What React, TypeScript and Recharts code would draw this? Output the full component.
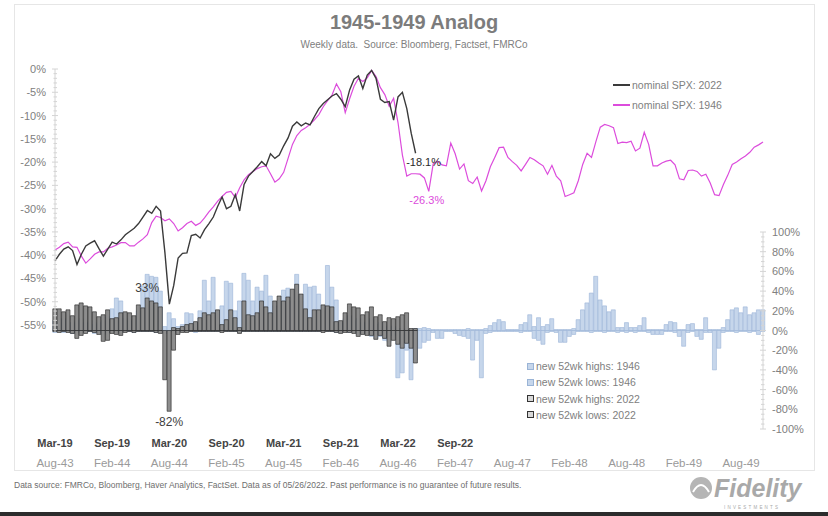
import { Bar, ComposedChart, LabelList, Line, XAxis, YAxis } from 'recharts'

// one reading every two weeks; week 0 = Mar-19 for the 2022 cycle, Aug-43 for the 1946 cycle
const STEP_WEEKS = 2
const LAST_WEEK = 322
const WEEKS_PER_LABEL = 26

// nominal SPX, % below the cycle peak
const spx2022 = [
  -41.2, -39.8, -38.7, -38.2, -39.0, -42.0, -39.8, -38.0, -37.4, -36.9,
  -38.6, -40.2, -38.7, -37.2, -37.6, -36.7, -35.6, -34.9, -34.2, -33.2,
  -31.8, -30.4, -31.0, -29.5, -30.5, -39.5, -50.5, -46.5, -40.6, -39.6,
  -39.5, -35.8, -35.5, -36.3, -34.5, -33.2, -31.8, -29.5, -27.5, -30.0,
  -29.5, -27.0, -30.5, -24.8, -23.0, -22.0, -21.0, -19.9, -20.8, -18.2,
  -19.2, -18.5, -16.5, -14.8, -12.3, -11.4, -12.2, -11.6, -12.0, -10.2,
  -8.5, -7.4, -6.6, -5.8, -5.3, -6.5, -8.1, -4.5, -2.2, -1.5,
  -4.2, -1.3, -0.3, -2.0, -6.5, -7.2, -7.0, -11.0, -6.0, -5.0,
  -8.5, -13.8, -18.1,
]

const spx1946 = [
  -38.9, -38.3, -37.5, -37.2, -38.2, -38.3, -40.2, -41.7, -40.8, -39.8,
  -39.3, -39.3, -38.5, -38.2, -37.8, -37.3, -37.3, -38.0, -38.0, -37.2,
  -36.5, -35.6, -33.0, -31.6, -31.9, -32.6, -32.2, -33.2, -34.8, -34.1,
  -33.2, -32.7, -33.6, -33.1, -32.0, -30.7, -29.6, -28.4, -27.4, -26.5,
  -26.3, -27.6, -25.5, -23.8, -22.7, -22.0, -21.4, -21.0, -20.8, -22.5,
  -24.3, -23.6, -22.2, -19.2, -16.2, -14.3, -13.2, -12.6, -11.9, -10.9,
  -9.8, -8.1, -6.8, -5.6, -3.2, -4.9, -9.4, -6.4, -3.7, -2.0,
  -2.7, -1.9, -0.3, -1.6, -4.0, -5.5, -8.0, -6.3, -11.5, -18.5,
  -23.0, -22.5, -22.5, -22.6, -23.4, -26.3, -20.4, -19.8, -20.6, -20.8,
  -15.9, -18.2, -21.5, -20.4, -24.0, -24.6, -23.2, -26.2, -24.0, -21.0,
  -19.0, -16.9, -16.8, -19.0, -19.9, -20.7, -21.9, -20.5, -19.0, -19.5,
  -20.2, -20.8, -22.6, -20.7, -23.0, -24.0, -27.4, -27.0, -26.6, -24.0,
  -20.5, -18.1, -19.0, -15.6, -12.5, -11.9, -12.2, -12.6, -16.0, -15.7,
  -15.8, -15.5, -17.6, -17.0, -13.6, -16.2, -20.8, -20.8, -20.2, -19.8,
  -19.6, -20.6, -23.6, -23.8, -21.8, -21.7, -22.0, -23.0, -22.6, -24.5,
  -27.0, -27.2, -24.8, -22.8, -20.5, -20.0, -19.3, -18.7, -17.9, -16.8,
  -16.3, -15.7,
]

// share of stocks at new 52-week highs / lows, %
const highs1946 = [
  10, 8, 12, 6, 8, 10, 12, 8, 10, 6,
  8, 10, 14, 22, 33, 30, 12, 10, 12, 20,
  45, 57, 55, 54, 40, 4, 18, 12, 4, 6,
  18, 17, 8, 20, 51, 30, 54, 20, 25, 50,
  48, 20, 30, 58, 51, 30, 44, 40, 56, 35,
  25, 20, 41, 43, 30, 57, 30, 47, 44, 45,
  37, 20, 66, 44, 31, 8, 12, 15, 10, 12,
  8, 10, 12, 6, 8, 4, 6, 4, 2, 2,
  1, 1, 2, 2, 3, 2, 1, 1, 1, 1,
  1, 1, 1, 1, 2, 1, 1, 1, 2, 5,
  8, 11, 9, 1, 1, 1, 6, 8, 16, 4,
  13, 4, 6, 12, 1, 1, 1, 1, 2, 11,
  21, 28, 38, 55, 31, 25, 19, 21, 3, 3,
  8, 3, 3, 5, 13, 1, 1, 1, 1, 6,
  9, 8, 1, 1, 6, 7, 1, 1, 13, 1,
  1, 1, 3, 11, 21, 23, 18, 24, 16, 18,
  21, 21,
]

const lows1946 = [
  -2, -1, -2, -1, -3, -2, -1, -2, -1, -3,
  -2, -4, -2, -1, -1, -2, -1, -1, -2, -1,
  -1, -1, -1, -2, -1, -3, -1, -1, -2, -1,
  -1, -1, -2, -1, -1, -1, -1, -1, -1, -1,
  -1, -1, -2, -1, -1, -1, -1, -1, -1, -1,
  -1, -1, -1, -1, -1, -1, -1, -1, -1, -1,
  -1, -1, -1, -1, -2, -2, -1, -2, -2, -4,
  -3, -4, -6, -8, -6, -10, -12, -5, -48, -43,
  -20, -50, -30, -18, -12, -10, -2, -8, -8, -1,
  -1, -3, -5, -6, -8, -30, -10, -48, -3, -2,
  -1, -1, -1, -1, -1, -1, -2, -1, -1, -8,
  -10, -14, -2, -1, -2, -12, -12, -6, -4, -1,
  -1, -1, -2, -1, -1, -2, -1, -1, -2, -1,
  -2, -1, -2, -1, -1, -2, -4, -4, -4, -1,
  -1, -2, -6, -16, -2, -1, -6, -9, -2, -2,
  -40, -18, -2, -1, -1, -2, -1, -1, -2, -1,
  -4, -1,
]

const highs2022 = [
  22, 22, 19, 21, 15, 26, 28, 25, 24, 19,
  14, 16, 21, 12, 13, 18, 19, 18, 15, 26,
  23, 33, 30, 28, 24, 0, 0, 3, 2, 4,
  6, 7, 9, 13, 18, 16, 18, 21, 6, 11,
  21, 13, 3, 30, 16, 15, 18, 30, 24, 18,
  30, 35, 30, 34, 42, 47, 37, 22, 13, 21,
  21, 26, 25, 24, 9, 10, 18, 27, 24, 23,
  16, 19, 24, 14, 16, 9, 13, 12, 14, 16,
  18, 2, 2,
]

const lows2022 = [
  -1, -2, -1, -2, -3, -8, -5, -3, -1, -2,
  -4, -11, -10, -3, -4, -5, -2, -1, -2, -1,
  -1, -1, -1, -2, -3, -50, -82, -20, -4, -2,
  -2, -1, -1, -1, -1, -1, -1, -1, -2, -1,
  -1, -1, -3, -1, -1, -1, -1, -1, -1, -1,
  -1, -1, -1, -1, -1, -1, -1, -1, -1, -1,
  -1, -2, -1, -1, -2, -3, -2, -2, -3, -6,
  -4, -5, -5, -9, -5, -8, -16, -10, -14, -18,
  -13, -18, -33,
]

const labels2022 = ['Mar-19', 'Sep-19', 'Mar-20', 'Sep-20', 'Mar-21', 'Sep-21', 'Mar-22', 'Sep-22']
const labels1946 = [
  'Aug-43', 'Feb-44', 'Aug-44', 'Feb-45', 'Aug-45', 'Feb-46', 'Aug-46',
  'Feb-47', 'Aug-47', 'Feb-48', 'Aug-48', 'Feb-49', 'Aug-49',
]

// weeks that carry a call-out in the original
const callouts = { high2022: 42, low2022: 52, low1946: 170 }

const C = {
  spx2022: '#3a3a3a',
  spx1946: '#dc4cdc',
  bar2022: '#8d8d8d',
  bar2022Edge: '#1e1e1e',
  bar1946: '#c6d6eb',
  bar1946Edge: '#9ab4d6',
  axis: '#d4d4d4',
  text: '#808080',
}

const lineLegend = [
  { label: 'nominal SPX: 2022', color: C.spx2022 },
  { label: 'nominal SPX: 1946', color: C.spx1946 },
]

const barLegend = [
  { label: 'new 52wk highs: 1946', fill: C.bar1946, edge: C.bar1946Edge },
  { label: 'new 52wk lows: 1946', fill: C.bar1946, edge: C.bar1946Edge },
  { label: 'new 52wk highs: 2022', fill: '#d8d8d8', edge: '#333' },
  { label: 'new 52wk lows: 2022', fill: '#d8d8d8', edge: '#333' },
]

const data = spx1946.map((v, i) => ({
  week: i * STEP_WEEKS,
  spx1946: v,
  spx2022: i < spx2022.length ? spx2022[i] : null,
  hi1946: highs1946[i],
  lo1946: lows1946[i],
  hi2022: i < highs2022.length ? highs2022[i] : null,
  lo2022: i < lows2022.length ? lows2022[i] : null,
}))

const leftTicks = Array.from({ length: 57 }, (_, i) => -i)
const rightTicks = Array.from({ length: 41 }, (_, i) => 100 - i * 5)
const dateTicks = labels1946.map((_, i) => i * WEEKS_PER_LABEL)

const FONT = "'Liberation Sans', Arial, sans-serif"

function LeftTick(props: any) {
  const { x, y, payload } = props
  const v = payload.value as number
  const major = v % 5 === 0
  const ax = x + 8
  return (
    <g>
      <line x1={ax - (major ? 3 : 1.5)} x2={ax + (major ? 3 : 2)} y1={y} y2={y} stroke={C.axis} />
      {major && (
        <text x={x - 1} y={y + 4} textAnchor="end" fontSize={11} fill={C.text}>
          {`${v}%`}
        </text>
      )}
    </g>
  )
}

function RightTick(props: any) {
  const { x, y, payload } = props
  const v = payload.value as number
  const major = v % 20 === 0
  const ax = x - 8
  return (
    <g>
      <line x1={ax - (major ? 3 : 2)} x2={ax + (major ? 3 : 1.5)} y1={y} y2={y} stroke={C.axis} />
      {major && (
        <text x={x + 1} y={y + 4} textAnchor="start" fontSize={11} fill={C.text}>
          {`${v}%`}
        </text>
      )}
    </g>
  )
}

// two date rows: 2022 cycle on top, 1946 cycle beneath
function DateTick(props: any) {
  const { x, y, payload } = props
  const i = Math.round(payload.value / WEEKS_PER_LABEL)
  return (
    <g>
      {labels2022[i] && (
        <text x={x} y={y + 10} textAnchor="middle" fontSize={11} fontWeight="bold" fill="#444">
          {labels2022[i]}
        </text>
      )}
      <text x={x} y={y + 30} textAnchor="middle" fontSize={11.5} fill="#9a9a9a">
        {labels1946[i]}
      </text>
    </g>
  )
}

const highCallout = (p: any) => {
  const row = data[p.index]
  if (!row || row.week !== callouts.high2022) return null
  const top = Math.min(p.y, p.y + p.height)
  return (
    <text x={p.x + p.width / 2} y={top - 6} textAnchor="middle" fontSize={12} fill="#404040">
      {`${row.hi2022}%`}
    </text>
  )
}

const lowCallout = (p: any) => {
  const row = data[p.index]
  if (!row || row.week !== callouts.low2022) return null
  const bottom = Math.max(p.y, p.y + p.height)
  return (
    <text x={p.x + p.width / 2} y={bottom + 15} textAnchor="middle" fontSize={12} fill="#404040">
      {`${row.lo2022}%`}
    </text>
  )
}

const endCallout = (p: any) => {
  if (p.index !== spx2022.length - 1) return null
  return (
    <text x={p.x + 8} y={p.y + 13} textAnchor="middle" fontSize={11} fill="#2a2a2a">
      {`${spx2022[p.index]}%`}
    </text>
  )
}

const troughCallout = (p: any) => {
  const row = data[p.index]
  if (!row || row.week !== callouts.low1946) return null
  return (
    <text x={p.x - 2} y={p.y + 13} textAnchor="middle" fontSize={11} fill={C.spx1946}>
      {`${row.spx1946}%`}
    </text>
  )
}

export default function App() {
  return (
    <div
      style={{
        position: 'relative',
        width: 828,
        height: 516,
        background: '#fff',
        overflow: 'hidden',
        fontFamily: FONT,
      }}
    >
      <style>{'body{margin:0}'}</style>
      <div
        style={{
          position: 'absolute',
          left: 14,
          top: 4,
          width: 799,
          height: 465,
          border: '1px solid #e6e6e6',
        }}
      />
      <div
        style={{
          position: 'absolute',
          top: 11,
          width: 828,
          textAlign: 'center',
          fontSize: 20,
          lineHeight: '22px',
          fontWeight: 'bold',
          color: '#7c7c7c',
        }}
      >
        1945-1949 Analog
      </div>
      <div
        style={{
          position: 'absolute',
          top: 39,
          width: 828,
          textAlign: 'center',
          fontSize: 10,
          lineHeight: '12px',
          color: C.text,
          whiteSpace: 'pre',
        }}
      >
        {'Weekly data.  Source: Bloomberg, Factset, FMRCo'}
      </div>

      {/* weekly breadth bars, right axis */}
      <div style={{ position: 'absolute', left: 0, top: 0 }}>
        <ComposedChart
          width={828}
          height={475}
          data={data}
          stackOffset="sign"
          barGap={0}
          margin={{ top: 232, right: 0, bottom: 6, left: 55 }}
        >
          <XAxis
            xAxisId="dates"
            dataKey="week"
            type="number"
            domain={[0, LAST_WEEK]}
            ticks={dateTicks}
            interval={0}
            height={40}
            tickLine={false}
            axisLine={false}
            tick={(p: any) => <DateTick {...p} />}
          />
          <XAxis xAxisId="overlay" dataKey="week" type="number" domain={[0, LAST_WEEK]} hide />
          <YAxis
            yAxisId="breadth"
            orientation="right"
            width={65}
            domain={[-100, 100]}
            ticks={rightTicks}
            interval={0}
            tickLine={false}
            axisLine={{ stroke: C.axis }}
            tick={(p: any) => <RightTick {...p} />}
          />
          <Bar xAxisId="dates" yAxisId="breadth" dataKey="hi1946" stackId="y1946" barSize={4}
            fill={C.bar1946} stroke={C.bar1946Edge} strokeWidth={0.6} isAnimationActive={false} />
          <Bar xAxisId="dates" yAxisId="breadth" dataKey="lo1946" stackId="y1946" barSize={4}
            fill={C.bar1946} stroke={C.bar1946Edge} strokeWidth={0.6} isAnimationActive={false} />
          <Bar xAxisId="overlay" yAxisId="breadth" dataKey="hi2022" stackId="y2022" barSize={4}
            fill={C.bar2022} stroke={C.bar2022Edge} strokeWidth={0.6} isAnimationActive={false}>
            <LabelList content={highCallout} />
          </Bar>
          <Bar xAxisId="overlay" yAxisId="breadth" dataKey="lo2022" stackId="y2022" barSize={4}
            fill={C.bar2022} stroke={C.bar2022Edge} strokeWidth={0.6} isAnimationActive={false}>
            <LabelList content={lowCallout} />
          </Bar>
        </ComposedChart>
      </div>

      {/* SPX paths, left axis */}
      <div style={{ position: 'absolute', left: 0, top: 0, pointerEvents: 'none' }}>
        <ComposedChart
          width={828}
          height={340}
          data={data}
          margin={{ top: 69, right: 65, bottom: 8, left: 0 }}
        >
          <XAxis dataKey="week" type="number" domain={[0, LAST_WEEK]} hide />
          <YAxis
            width={55}
            domain={[-56.5, 0]}
            ticks={leftTicks}
            interval={0}
            tickLine={false}
            axisLine={{ stroke: C.axis }}
            tick={(p: any) => <LeftTick {...p} />}
          />
          <Line dataKey="spx1946" stroke={C.spx1946} strokeWidth={1.2} dot={false}
            type="linear" isAnimationActive={false}>
            <LabelList content={troughCallout} />
          </Line>
          <Line dataKey="spx2022" stroke={C.spx2022} strokeWidth={1.4} dot={false}
            type="linear" isAnimationActive={false}>
            <LabelList content={endCallout} />
          </Line>
        </ComposedChart>
      </div>

      {lineLegend.map((item, i) => (
        <div
          key={item.label}
          style={{
            position: 'absolute',
            left: 613,
            top: 79 + i * 20,
            height: 12,
            display: 'flex',
            alignItems: 'center',
            fontSize: 10.5,
            color: C.text,
          }}
        >
          <span style={{ width: 17, height: 2, background: item.color, marginRight: 2 }} />
          {item.label}
        </div>
      ))}

      {barLegend.map((item, i) => (
        <div
          key={item.label}
          style={{
            position: 'absolute',
            left: 527,
            top: 360 + i * 16.3,
            height: 12,
            display: 'flex',
            alignItems: 'center',
            fontSize: 10.5,
            color: C.text,
          }}
        >
          <span
            style={{
              width: 5,
              height: 5,
              background: item.fill,
              border: `1px solid ${item.edge}`,
              marginRight: 2,
            }}
          />
          {item.label}
        </div>
      ))}

      <div
        style={{
          position: 'absolute',
          left: 14,
          top: 480,
          fontSize: 8.5,
          lineHeight: '10px',
          color: '#6e6e6e',
          whiteSpace: 'nowrap',
        }}
      >
        Data source: FMRCo, Bloomberg, Haver Analytics, FactSet. Data as of 05/26/2022. Past performance is no guarantee of future results.
      </div>

      <svg style={{ position: 'absolute', left: 688, top: 474 }} width={124} height={36}>
        <circle cx={13} cy={14} r={11} fill="#b5b5b5" />
        <path d="M5 18 Q13 4 21 18" stroke="#fff" strokeWidth={2} fill="none" />
        <text x={26} y={23} fontSize={25} fontWeight="bold" fontStyle="italic" fill="#a9a9a9">
          Fidelity
        </text>
        <text x={36} y={35} fontSize={4.5} letterSpacing={2.2} fill="#a9a9a9">
          INVESTMENTS
        </text>
      </svg>

      <div
        style={{ position: 'absolute', left: 0, top: 512, width: 828, height: 4, background: '#2c2c2c' }}
      />
    </div>
  )
}
